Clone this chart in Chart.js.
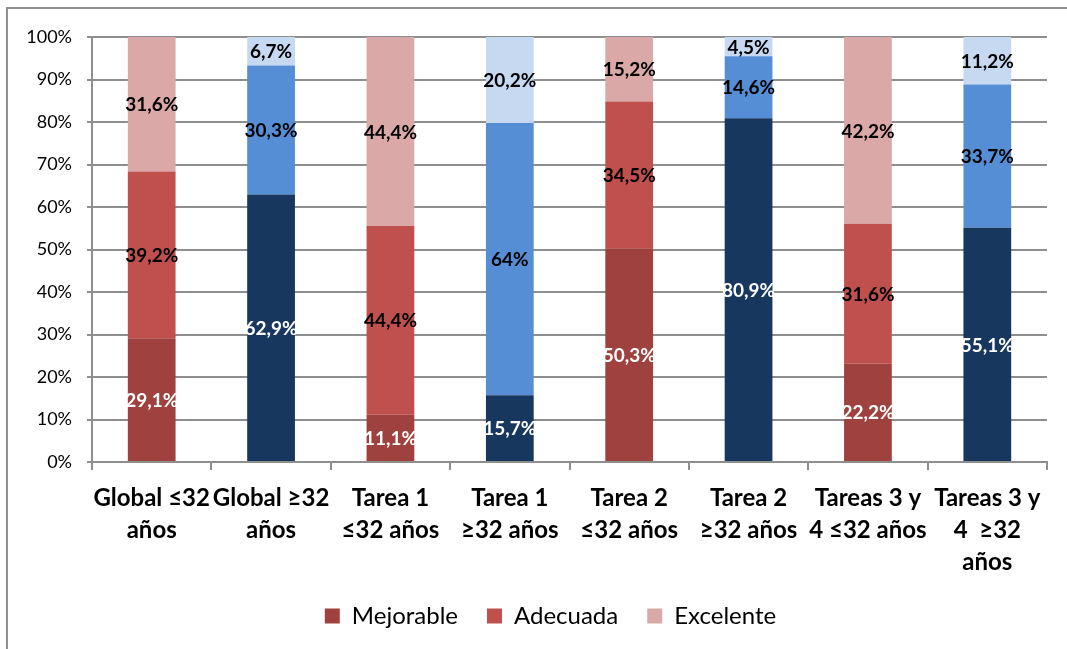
<!DOCTYPE html>
<html lang="es">
<head>
<meta charset="utf-8">
<title>Niveles por tarea y edad</title>
<script src="https://cdn.jsdelivr.net/npm/chart.js@4.4.1/dist/chart.umd.min.js"></script>
<style>
  html, body { margin: 0; padding: 0; background: #fff; }
  body { width: 1067px; height: 649px; position: relative; overflow: hidden; }
  .frame { position: absolute; left: 6px; top: 7px; width: 1100px; height: 700px; border: 2px solid #8f8f8f; }
  canvas { position: absolute; left: 0; top: 0; }
</style>
</head>
<body>
<div class="frame"></div>
<canvas id="chart" width="1067" height="649"></canvas>
<script>
/* ── DATA ── */
const categories = [
  ['Global ≤32', 'años'],
  ['Global ≥32', 'años'],
  ['Tarea 1', '≤32 años'],
  ['Tarea 1', '≥32 años'],
  ['Tarea 2', '≤32 años'],
  ['Tarea 2', '≥32 años'],
  ['Tareas 3 y', '4 ≤32 años'],
  ['Tareas 3 y', '4  ≥32', 'años']
];
const seriesNames = ['Mejorable', 'Adecuada', 'Excelente'];
const mejorable = [29.1, 62.9, 11.1, 15.7, 50.3, 80.9, 22.2, 55.1];
const adecuada  = [39.2, 30.3, 44.4, 64,   34.5, 14.6, 31.6, 33.7];
const excelente = [31.6, 6.7,  44.4, 20.2, 15.2, 4.5,  42.2, 11.2];
const yTicks = [0, 10, 20, 30, 40, 50, 60, 70, 80, 90, 100];

/* ── COLOURS (red = ≤32, blue = ≥32) ── */
const reds  = ['#9f413e', '#c0504d', '#daa8a7'];
const blues = ['#17375e', '#558ed5', '#c6d9f1'];
const isBlue = categories.map((c, i) => i % 2 === 1);

/* 100% stacked: each bar normalised to its own total */
const raw = [mejorable, adecuada, excelente];
const totals = mejorable.map((v, i) => v + adecuada[i] + excelente[i]);
const share = arr => arr.map((v, i) => v / totals[i] * 100);

const fmt = v => String(v).replace('.', ',') + '%';

const FONT = 'Lato, "Open Sans", sans-serif';

const segLabels = {
  id: 'segLabels',
  afterDatasetsDraw(chart) {
    const ctx = chart.ctx;
    ctx.save();
    ctx.font = 'bold 19px ' + FONT;
    ctx.textAlign = 'center';
    ctx.textBaseline = 'middle';
    chart.data.datasets.forEach((ds, i) => {
      chart.getDatasetMeta(i).data.forEach((bar, j) => {
        ctx.fillStyle = i === 0 ? '#ffffff' : '#000000';
        ctx.fillText(fmt(ds.rawValues[j]), bar.x, (bar.y + bar.base) / 2 + 1);
      });
    });
    ctx.restore();
  }
};

// nudge the legend right so it sits under the plot like the original
const legendShift = {
  id: 'legendShift',
  afterLayout(chart) {
    if (!chart.legend) return;
    chart.legend.left += 27;
    chart.legend.right += 27;
  }
};

new Chart(document.getElementById('chart'), {
  type: 'bar',
  data: {
    labels: categories,
    datasets: raw.map((arr, k) => ({
      label: seriesNames[k],
      data: share(arr),
      rawValues: arr,
      backgroundColor: isBlue.map(b => b ? blues[k] : reds[k]),
      borderWidth: 0,
      categoryPercentage: 1,
      barPercentage: 0.4
    }))
  },
  options: {
    responsive: false,
    animation: false,
    layout: { padding: { top: 37, right: 20, left: 0, bottom: 11 } },
    scales: {
      x: {
        stacked: true,
        grid: { drawOnChartArea: false, drawTicks: true, tickLength: 8, color: '#8e8e8e', lineWidth: 2, offset: true },
        border: { color: '#8e8e8e', width: 2 },
        ticks: {
          color: '#000', maxRotation: 0, minRotation: 0, autoSkip: false, padding: 12,
          font: { family: FONT, size: 24, weight: 'bold', lineHeight: 1.34 }
        },
        afterFit: s => { s.height = 113; }
      },
      y: {
        stacked: true,
        min: 0, max: 100,
        afterBuildTicks: s => { s.ticks = yTicks.map(v => ({ value: v })); },
        grid: { color: '#8e8e8e', lineWidth: 2, tickLength: 5 },
        border: { color: '#8e8e8e', width: 2 },
        ticks: {
          color: '#000', padding: 15, callback: v => v + '%',
          font: { family: FONT, size: 18 }
        },
        afterFit: s => { s.width = 92; }
      }
    },
    plugins: {
      tooltip: { enabled: false },
      legend: {
        position: 'bottom',
        labels: {
          color: '#000', boxWidth: 15, boxHeight: 15, padding: 29,
          font: { family: FONT, size: 24 },
          generateLabels: () => seriesNames.map((n, k) => ({
            text: n, fillStyle: reds[k], strokeStyle: reds[k], lineWidth: 0, datasetIndex: k, hidden: false
          }))
        }
      }
    }
  },
  plugins: [segLabels, legendShift]
});
</script>
</body>
</html>
